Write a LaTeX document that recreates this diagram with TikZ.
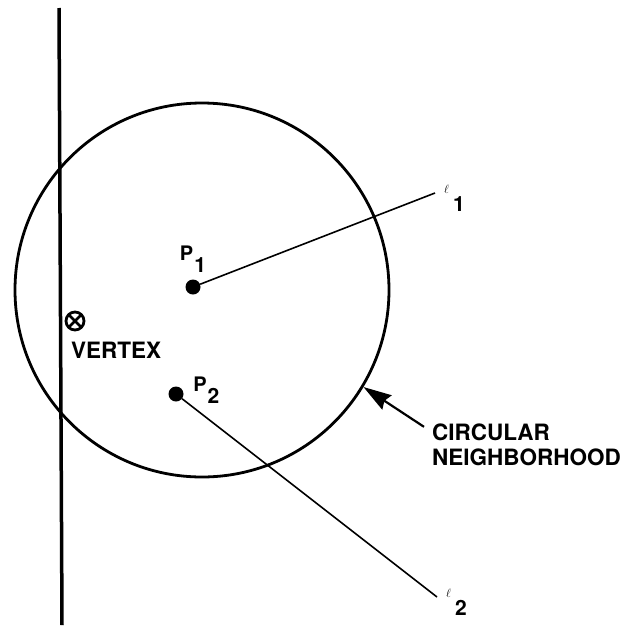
\documentclass[tikz,border=0pt]{standalone}
\usepackage{fontspec}
\setmainfont{TeX Gyre Heros}
\usetikzlibrary{arrows.meta}
\usetikzlibrary{positioning}
\tikzset{
    dot/.style={
        circle,
        fill=black,
        inner sep=0pt,
        minimum size=15pt
    },
    ray/.style={
        line width=1.6pt,
        draw=black
    },
    caps/.style={
        font=\fontsize{22.5}{25}\selectfont\bfseries,
        inner sep=0pt,
        align=left
    },
    pointer/.style={
        -{Stealth[length=28pt,width=17pt,inset=3pt]},
        line width=2.2pt,
        draw=black
    }
}
\newcommand{\pname}[1]{{\fontsize{20}{20}\selectfont\bfseries P}\hspace{1pt}\raisebox{-12pt}{\fontsize{21}{21}\selectfont\bfseries #1}}
\newcommand{\rayname}[1]{{\fontsize{13}{13}\selectfont$\ell$}\hspace{4pt}\raisebox{-18pt}{\fontsize{21}{21}\selectfont\bfseries #1}}

\begin{document}
\begin{tikzpicture}[
    x=1pt, y=-1pt,
    label node/.style={inner sep=0pt}
]
\useasboundingbox (0,0) rectangle (634,627);

% 1. Edge through the vertex
\coordinate (edgetop) at (59,8);
\coordinate (edgebot) at (62,625);
\draw[line width=3.5pt] (edgetop) -- (edgebot);

% 2. Circular neighborhood
\node[draw, circle, line width=2.8pt, minimum size=374pt, inner sep=0pt] (nbhd) at (202,290) {};

% 3. Points and their rays
\node[dot] (p1) at (193,287) {};
\node[dot] (p2) at (176,394) {};
\node[label node, above=6.5pt of p1] (p1label) {\pname{1}};
\node[label node, right=9.5pt of p2, yshift=3.5pt] (p2label) {\pname{2}};

\coordinate (l1end) at (435,193);
\coordinate (l2end) at (437,597);
\draw[ray] (p1) -- (l1end);
\draw[ray] (p2) -- (l2end);
\node[label node, right=9pt of l1end, anchor=base west] (l1label) {\rayname{1}};
\node[label node, right=9pt of l2end, anchor=base west] (l2label) {\rayname{2}};

% 4. Vertex mark
\node[circle, draw, line width=2.8pt, minimum size=18pt, inner sep=0pt, outer sep=0pt] (vtx) at (75,321) {};
\draw[line width=2.8pt] (vtx.45) -- (vtx.225) (vtx.135) -- (vtx.-45);
\node[caps, below=12pt of vtx.south, anchor=north west, xshift=-4pt] (vtxlabel) {VERTEX};

% 5. Callout
\node[caps, anchor=west] (nbhdlabel) at (432,445) {CIRCULAR\\NEIGHBORHOOD};
\draw[pointer] ([xshift=-8pt, yshift=-3pt]nbhdlabel.north west) -- (nbhd.-31.5);

\end{tikzpicture}
\end{document}
